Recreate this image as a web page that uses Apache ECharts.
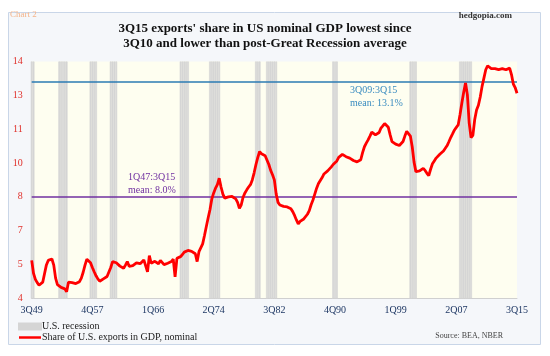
<!DOCTYPE html>
<html><head><meta charset="utf-8">
<script src="https://cdn.jsdelivr.net/npm/echarts@6/dist/echarts.min.js"></script>
<style>html,body{margin:0;padding:0;background:#fff}#c{width:550px;height:356px}</style>
</head><body><div id="c"></div>
<script>
// ---- data ----
const firstYear = 1949, firstQuarter = 3;
const tickLabels = ['3Q49','4Q57','1Q66','2Q74','3Q82','4Q90','1Q99','2Q07','3Q15'];
const exportShare = [
5.60,5.05,4.80,4.66,4.55,4.52,4.68,5.05,5.41,5.60,
5.64,5.66,5.40,4.85,4.58,4.50,4.46,4.44,4.40,4.28,
4.68,4.62,4.66,4.70,4.62,4.56,4.70,4.85,5.10,5.40,
5.65,5.70,5.50,5.30,5.12,4.95,4.82,4.72,4.72,4.82,
4.88,4.92,4.98,5.30,5.55,5.52,5.50,5.42,5.36,5.30,
5.27,5.40,5.55,5.35,5.27,5.38,5.41,5.50,5.55,5.46,
5.50,5.62,5.55,5.12,5.80,5.48,5.52,5.56,5.50,5.46,
5.60,5.65,5.42,5.45,5.48,5.52,5.55,5.65,4.91,5.69,
5.72,5.76,5.85,5.95,5.98,6.02,6.04,5.98,5.92,5.88,
5.55,5.97,6.04,6.30,6.65,7.03,7.40,7.75,8.20,8.45,
8.65,8.80,9.07,8.70,8.40,8.23,8.30,8.28,8.25,8.30,
8.37,8.20,8.05,7.80,7.95,8.27,8.45,8.58,8.70,8.80,
9.00,9.30,9.65,9.95,10.20,10.10,10.06,10.02,9.95,9.65,
9.40,9.22,9.00,8.40,8.05,7.94,7.90,7.88,7.87,7.86,
7.85,7.78,7.66,7.50,7.31,7.14,7.25,7.31,7.35,7.38,
7.55,7.70,7.95,8.15,8.40,8.65,8.85,8.93,9.10,9.25,
9.30,9.38,9.42,9.55,9.65,9.71,9.80,9.95,10.00,10.08,
10.02,9.98,9.95,9.92,9.87,9.82,9.78,9.76,9.80,9.85,
10.15,10.40,10.55,10.69,10.85,11.02,10.96,10.90,10.83,11.00,
11.19,11.28,11.38,11.40,11.22,10.90,10.62,10.55,10.51,10.48,
10.45,10.52,10.62,10.85,11.05,11.00,10.85,10.40,9.75,9.35,
9.30,9.38,9.45,9.49,9.40,9.28,9.18,9.45,9.68,9.80,
9.92,10.00,10.08,10.13,10.22,10.27,10.45,10.62,10.80,10.95,
11.11,11.22,11.32,11.75,12.25,12.70,13.09,12.60,11.40,10.79,
10.88,11.55,11.95,12.15,12.50,12.95,13.30,13.65,13.82,13.80,
13.70,13.68,13.70,13.69,13.66,13.67,13.70,13.75,13.65,13.70,
13.72,13.45,13.05,12.90,12.66
];
const recessions = [
['3Q49','4Q49'],['2Q53','2Q54'],['3Q57','2Q58'],['2Q60','1Q61'],
['4Q69','4Q70'],['4Q73','1Q75'],['1Q80','3Q80'],['3Q81','4Q82'],
['3Q90','1Q91'],['1Q01','4Q01'],['4Q07','2Q09']
];
const meanAllLevel = 8.3;      // 1Q47:3Q15 mean line, as drawn
const meanRecentLevel = 13.15; // 3Q09:3Q15 mean line, as drawn
const yMin = 4, yMax = 14, ySteps = 7;

// ---- build ----
const categories = exportShare.map((_, i) => {
  const k = firstQuarter - 1 + i;
  const y = firstYear + Math.floor(k / 4);
  return (k % 4 + 1) + 'Q' + String(y % 100).padStart(2, '0');
});
const idx = {}; categories.forEach((c, i) => idx[c] = i);
const recessionBars = categories.map((c, i) =>
  recessions.some(r => i >= idx[r[0]] && i <= idx[r[1]]) ? yMax : '-');

const serif = 'Liberation Serif';
const chart = echarts.init(document.getElementById('c'), null, {renderer: 'canvas'});
chart.setOption({
  animation: false,
  backgroundColor: '#ffffff',
  title: {
    text: "3Q15 exports' share in US nominal GDP lowest since\n3Q10 and lower than post-Great Recession average",
    left: 260, top: 16, textAlign: 'center',
    textStyle: {fontFamily: serif, fontWeight: 'bold', fontSize: 13, lineHeight: 15, color: '#111'}
  },
  grid: {left: 31.7, right: 33, top: 61.5, bottom: 57.7, show: true, backgroundColor: '#fefef0', borderWidth: 0},
  legend: {
    orient: 'vertical', left: 18, top: 321, itemWidth: 22, itemHeight: 6, itemGap: 0, padding: 0,
    selectedMode: false, symbolKeepAspect: true,
    textStyle: {fontFamily: serif, fontSize: 10, color: '#222', lineHeight: 11, padding: [0,0,0,-4]},
    data: [
      {name: 'U.S. recession', icon: 'rect'},
      {name: 'Share of U.S. exports in GDP, nominal', icon: 'path://M0,0 L40,0 L40,4.5 L0,4.5 Z'}
    ]
  },
  xAxis: {
    type: 'category', data: categories, boundaryGap: false,
    axisLine: {lineStyle: {color: '#d0d0d0'}}, axisTick: {show: false},
    axisLabel: {interval: (i, v) => tickLabels.includes(v), fontFamily: serif, fontSize: 10, color: '#1f3864', margin: 7}
  },
  yAxis: {
    type: 'value', min: yMin, max: yMax, interval: (yMax - yMin) / ySteps,
    splitLine: {show: false}, axisLine: {show: false}, axisTick: {show: false},
    axisLabel: {formatter: v => Math.round(v), fontFamily: serif, fontSize: 10, color: '#e0302a', margin: 9}
  },
  series: [
    {
      name: 'U.S. recession', type: 'bar', data: recessionBars, barWidth: '100%', silent: true,
      itemStyle: {color: '#d5d5d5', borderColor: '#d5d5d5', borderWidth: 0.6}, z: 1,
      markLine: {
        silent: true, symbol: 'none', label: {show: false},
        data: [
          {yAxis: meanRecentLevel, lineStyle: {color: '#2b7bb3', width: 1.5, type: 'solid'}},
          {yAxis: meanAllLevel, lineStyle: {color: '#7030a0', width: 1.5, type: 'solid'}}
        ]
      }
    },
    {
      name: 'Share of U.S. exports in GDP, nominal', type: 'line', data: exportShare,
      symbol: 'none', z: 5, lineStyle: {color: '#ff0000', width: 2.8}, itemStyle: {color: '#ff0000'}
    }
  ],
  graphic: [
    {type: 'rect', z: -10, silent: true, shape: {x: 8.5, y: 12.5, width: 532, height: 332},
     style: {fill: '#f5f7fa', stroke: '#c9d6e8', lineWidth: 1}},
    {type: 'text', left: 10, top: 10, style: {text: 'Chart 2', font: '9px "Liberation Serif"', fill: '#f4b48a'}},
    {type: 'text', right: 38, top: 11, style: {text: 'hedgopia.com', font: 'bold 9px "Liberation Serif"', fill: '#333'}},
    {type: 'text', left: 350, top: 84, style: {text: '3Q09:3Q15\nmean: 13.1%', font: '10px "Liberation Serif"', fill: '#3a8cc0', lineHeight: 13}},
    {type: 'text', left: 128, top: 171, style: {text: '1Q47:3Q15\nmean: 8.0%', font: '10px "Liberation Serif"', fill: '#7030a0', lineHeight: 13}},
    {type: 'text', right: 47, top: 332, style: {text: 'Source: BEA, NBER', font: '8px "Liberation Serif"', fill: '#444'}}
  ]
});
</script></body></html>
